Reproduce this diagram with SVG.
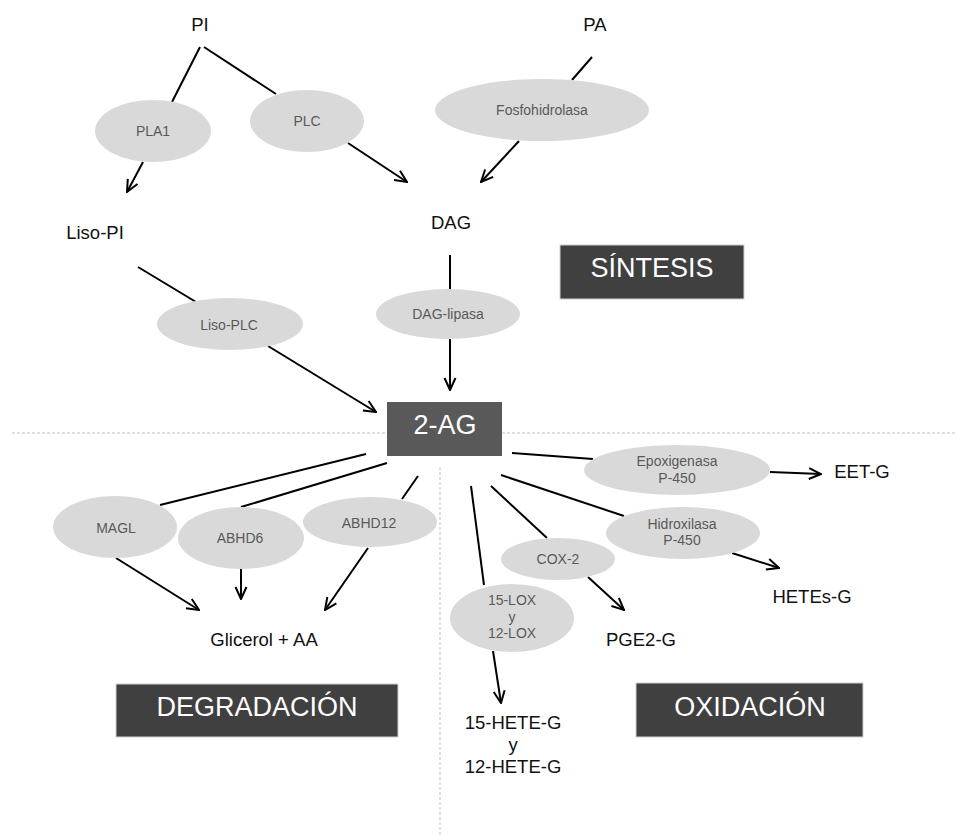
<svg xmlns="http://www.w3.org/2000/svg" width="957" height="835" viewBox="0 0 957 835">
<defs>
<marker id="arr" viewBox="0 0 14 14" refX="13" refY="7" markerWidth="14" markerHeight="14" markerUnits="userSpaceOnUse" orient="auto">
<path d="M1,1.5 L13,7 L1,12.5" fill="none" stroke="#000" stroke-width="2"/>
</marker>
<style>
.lbl{font-family:"Liberation Sans",Arial,sans-serif;font-size:18.5px;fill:#111;text-anchor:middle}
.enz{font-family:"Liberation Sans",Arial,sans-serif;font-size:14px;fill:#595959;text-anchor:middle}
.ell{fill:#d9d9d9}
.box{fill:#404040;stroke:#d0d0d0;stroke-width:1}
.btxt{font-family:"Liberation Sans",Arial,sans-serif;font-size:27px;fill:#fff;text-anchor:middle}
.ln{stroke:#000;stroke-width:2;fill:none}
.ar{stroke:#000;stroke-width:2;fill:none;marker-end:url(#arr)}
.dash{stroke:#bfbfbf;stroke-width:1;stroke-dasharray:3 2;fill:none}
</style>
</defs>
<rect width="957" height="835" fill="#fff"/>
<g id="dividers">
<line class="dash" x1="12" y1="433" x2="955" y2="433"/>
<line class="dash" x1="440" y1="467" x2="440" y2="835"/>
</g>
<g id="connectors">
<line class="ln" x1="200" y1="47" x2="172" y2="102"/>
<line class="ln" x1="204" y1="47" x2="276" y2="94"/>
<line class="ar" x1="143" y1="162" x2="127" y2="192"/>
<line class="ar" x1="348" y1="143" x2="407" y2="182"/>
<line class="ln" x1="592" y1="57" x2="572" y2="80"/>
<line class="ar" x1="519" y1="141" x2="481" y2="182"/>
<line class="ln" x1="450" y1="255" x2="450" y2="290"/>
<line class="ar" x1="450" y1="339" x2="450" y2="390"/>
<line class="ln" x1="138" y1="267" x2="196" y2="302"/>
<line class="ar" x1="268" y1="346" x2="376" y2="412"/>
<line class="ln" x1="366" y1="454" x2="160" y2="505"/>
<line class="ln" x1="387" y1="463" x2="241" y2="507"/>
<line class="ln" x1="418" y1="476" x2="402" y2="499"/>
<line class="ar" x1="116" y1="558" x2="199" y2="610"/>
<line class="ar" x1="241" y1="559" x2="241" y2="599"/>
<line class="ar" x1="368" y1="548" x2="325" y2="610"/>
<line class="ln" x1="512" y1="453" x2="593" y2="459"/>
<line class="ar" x1="770" y1="472" x2="821" y2="474"/>
<line class="ln" x1="501" y1="475" x2="624" y2="516"/>
<line class="ar" x1="732" y1="553" x2="779" y2="568"/>
<line class="ln" x1="491" y1="486" x2="547" y2="538"/>
<line class="ar" x1="588" y1="577" x2="624" y2="610"/>
<line class="ln" x1="471" y1="486" x2="484" y2="585"/>
<line class="ar" x1="493" y1="651" x2="501" y2="703"/>
</g>
<g id="PI"><text class="lbl" x="200" y="31">PI</text></g>
<g id="PA"><text class="lbl" x="595" y="31">PA</text></g>
<g id="PLA1"><ellipse class="ell" cx="153" cy="131" rx="58" ry="31"/><text class="enz" x="153" y="136">PLA1</text></g>
<g id="PLC"><ellipse class="ell" cx="307" cy="121" rx="57" ry="31"/><text class="enz" x="307" y="126">PLC</text></g>
<g id="Fosfohidrolasa"><ellipse class="ell" cx="542" cy="110" rx="107" ry="31"/><text class="enz" x="542" y="115">Fosfohidrolasa</text></g>
<g id="LisoPI"><text class="lbl" x="95" y="239">Liso-PI</text></g>
<g id="DAG"><text class="lbl" x="451" y="229">DAG</text></g>
<g id="sintesis"><rect class="box" x="560" y="245" width="184" height="54"/><text class="btxt" x="652" y="277">SÍNTESIS</text></g>
<g id="LisoPLC"><ellipse class="ell" cx="230" cy="324" rx="73" ry="26"/><text class="enz" x="229" y="330">Liso-PLC</text></g>
<g id="DAGlipasa"><ellipse class="ell" cx="448" cy="314" rx="72" ry="25"/><text class="enz" x="448" y="319">DAG-lipasa</text></g>
<g id="AG2"><rect x="387" y="402" width="115" height="54" fill="#595959"/><text class="btxt" x="445" y="434">2-AG</text></g>
<g id="MAGL"><ellipse class="ell" cx="115" cy="527" rx="62" ry="31"/><text class="enz" x="116" y="533">MAGL</text></g>
<g id="ABHD6"><ellipse class="ell" cx="241" cy="538" rx="63" ry="31"/><text class="enz" x="240" y="543">ABHD6</text></g>
<g id="ABHD12"><ellipse class="ell" cx="370" cy="522" rx="67" ry="25"/><text class="enz" x="369" y="528">ABHD12</text></g>
<g id="Glicerol"><text class="lbl" x="264" y="646">Glicerol + AA</text></g>
<g id="degradacion"><rect class="box" x="116" y="684" width="282" height="53"/><text class="btxt" x="257" y="716">DEGRADACIÓN</text></g>
<g id="Epoxigenasa"><ellipse class="ell" cx="677" cy="470" rx="93" ry="25"/><text class="enz" x="677" y="466">Epoxigenasa</text><text class="enz" x="677" y="483">P-450</text></g>
<g id="EETG"><text class="lbl" x="862" y="478">EET-G</text></g>
<g id="Hidroxilasa"><ellipse class="ell" cx="683" cy="533" rx="77" ry="26"/><text class="enz" x="682" y="529">Hidroxilasa</text><text class="enz" x="682" y="545">P-450</text></g>
<g id="HETEsG"><text class="lbl" x="812" y="603">HETEs-G</text></g>
<g id="COX2"><ellipse class="ell" cx="558" cy="559" rx="57" ry="21"/><text class="enz" x="558" y="564">COX-2</text></g>
<g id="PGE2G"><text class="lbl" x="641" y="646">PGE2-G</text></g>
<g id="LOX"><ellipse class="ell" cx="512" cy="618" rx="62" ry="34"/><text class="enz" x="512" y="605">15-LOX</text><text class="enz" x="512" y="622">y</text><text class="enz" x="512" y="638">12-LOX</text></g>
<g id="HETEG"><text class="lbl" x="513" y="729">15-HETE-G</text><text class="lbl" x="513" y="751">y</text><text class="lbl" x="513" y="773">12-HETE-G</text></g>
<g id="oxidacion"><rect class="box" x="636" y="683" width="227" height="54"/><text class="btxt" x="750" y="716">OXIDACIÓN</text></g>
</svg>
